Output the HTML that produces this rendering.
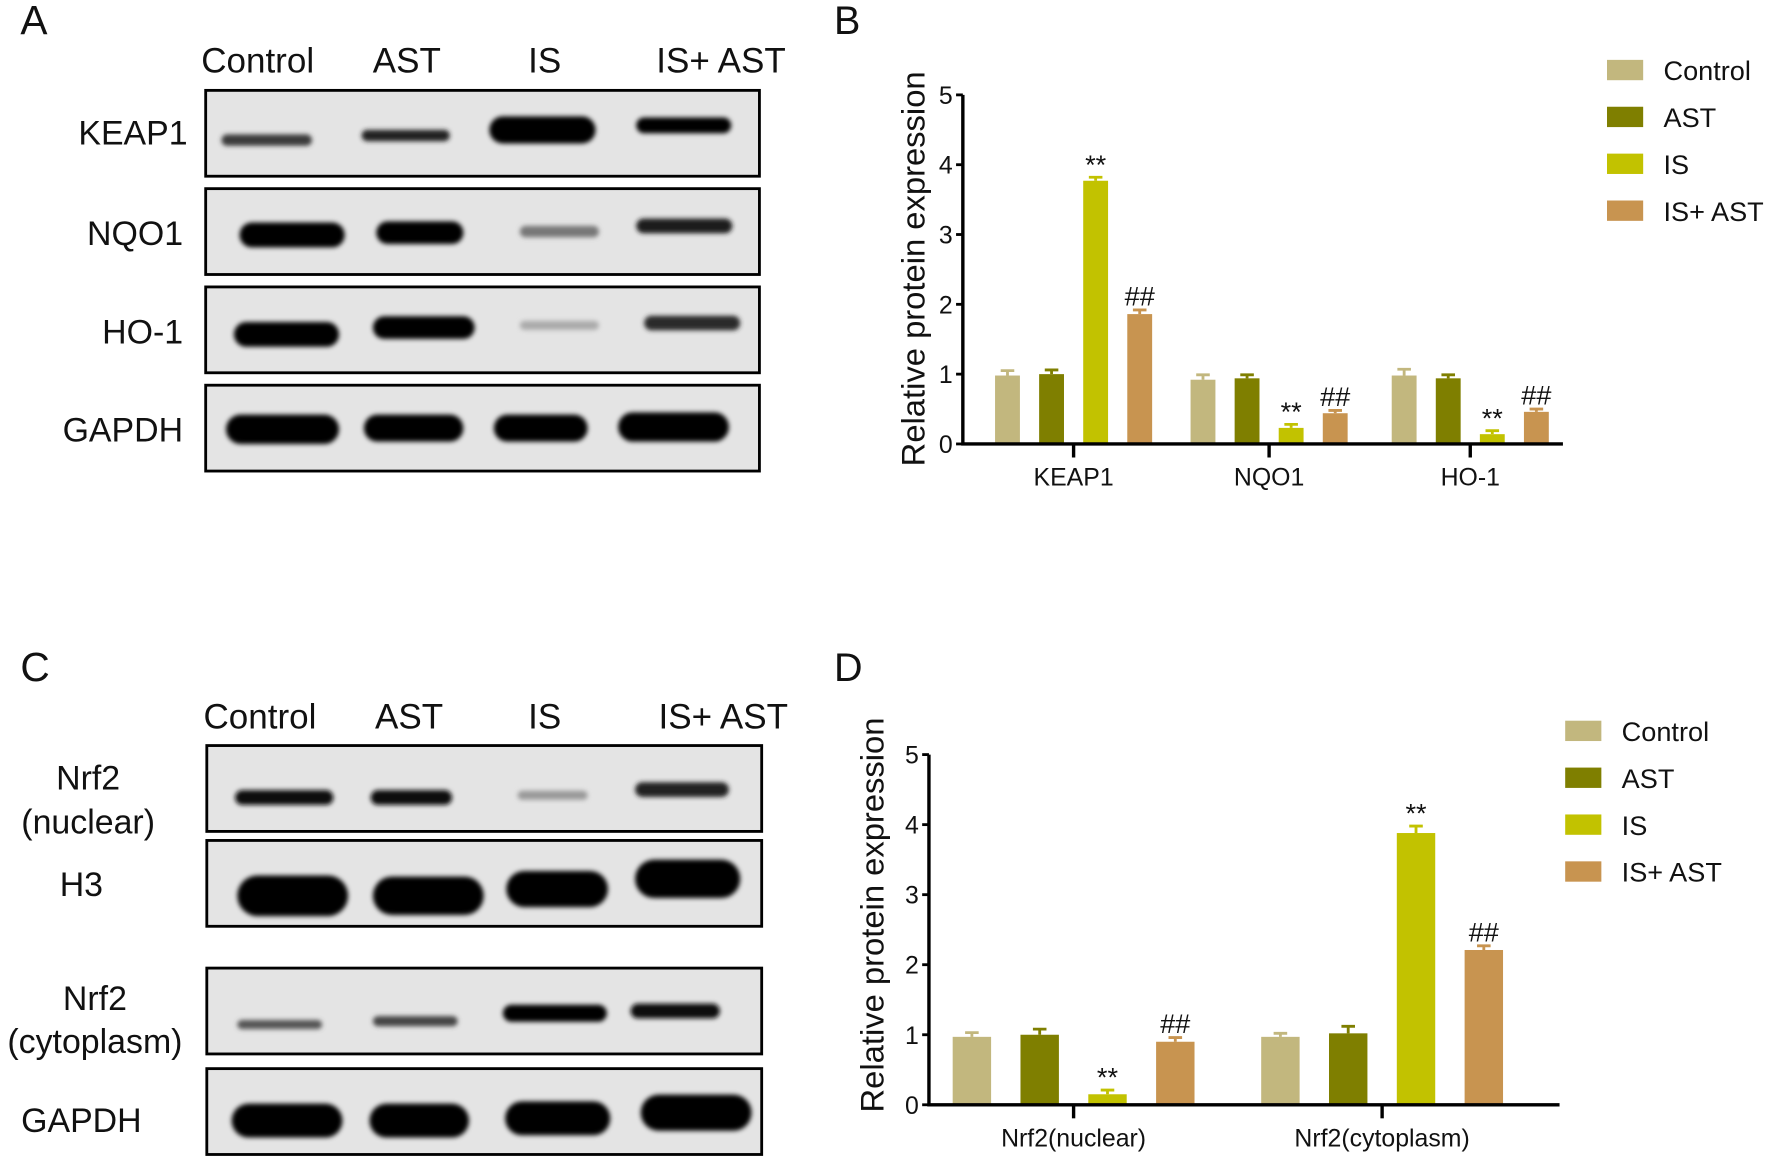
<!DOCTYPE html>
<html><head><meta charset="utf-8"><style>
html,body{margin:0;padding:0;background:#fff;}
svg{display:block;}
text{font-family:"Liberation Sans",Arial,sans-serif;fill:#111;}
</style></head><body>
<svg id="fig" width="1772" height="1159" viewBox="0 0 1568 1026" preserveAspectRatio="none" xmlns="http://www.w3.org/2000/svg">
<defs><filter id="blur" x="-20%" y="-100%" width="140%" height="300%"><feGaussianBlur stdDeviation="2.2"/></filter></defs>
<g id="panelA"></g>
<g id="panelC"></g>
<g id="chartB"></g>
<g id="chartD"></g>
</svg>
<script>
const groupNames = ["Control","AST","IS","IS+ AST"];
const seriesColors = ["#c2b77e","#7f7f00","#c2c200","#c89450"];
const yTicks = [0,1,2,3,4,5];
// Chart B data
const bCategories = ["KEAP1","NQO1","HO-1"];
const bControl = [0.98,0.92,0.98];
const bAST = [1.0,0.94,0.94];
const bIS = [3.77,0.23,0.14];
const bISAST = [1.86,0.44,0.46];
const bErr = [[0.07,0.07,0.09],[0.06,0.05,0.05],[0.05,0.05,0.05],[0.06,0.04,0.04]];
const bMarks = [["","",""],["","",""],["**","**","**"],["##","##","##"]];
// Chart D data
const dCategories = ["Nrf2(nuclear)","Nrf2(cytoplasm)"];
const dControl = [0.97,0.97];
const dAST = [1.0,1.02];
const dIS = [0.15,3.88];
const dISAST = [0.9,2.21];
const dErr = [[0.06,0.05],[0.08,0.1],[0.06,0.1],[0.06,0.06]];
const dMarks = [["",""],["",""],["**","**"],["##","##"]];

const NS="http://www.w3.org/2000/svg";
function mk(parent,tag,attrs,txt){const e=document.createElementNS(NS,tag);for(const k in attrs)e.setAttribute(k,attrs[k]);if(txt!==undefined)e.textContent=txt;parent.appendChild(e);return e;}

function drawChart(g,cfg){
  const {x0,x1,y0,y5,cats,series,errs,marks,centers,bw,sp,legX,legY,ylabX,ylabY,panel,panelY} = cfg;
  const y=v=>y0-(y0-y5)*v/5;
  let t=mk(g,'text',{x:738,y:panelY,'font-size':35});t.textContent=panel;
  
  
  series.forEach((vals,si)=>{
    vals.forEach((v,ci)=>{
      const cx=centers[ci]+(si-1.5)*sp;
      const r=mk(g,'rect',{x:cx-bw/2,y:y(v),width:bw,height:y0-y(v),fill:seriesColors[si]});
      
      
      const ey=y(v+errs[si][ci]);
      const eb=mk(g,'path',{d:`M${cx} ${y(v)}V${ey}M${cx-6} ${ey}H${cx+6}`,stroke:seriesColors[si],'stroke-width':2.5,fill:'none'});
      
      
      if(marks[si][ci]){
        const m=mk(g,'text',{x:cx,y:ey-(marks[si][ci]=='**'?3:4),'text-anchor':'middle','font-size':marks[si][ci]=='**'?24:24,fill:'#1d1d3a'},marks[si][ci]);
        
        
      }
    });
  });
  const ax=mk(g,'path',{d:`M${x0} ${y5}V${y0}H${x1}`,stroke:'#000','stroke-width':3,fill:'none'});
  
  
  yTicks.forEach(v=>{
    mk(g,'line',{x1:x0-6,x2:x0,y1:y(v),y2:y(v),stroke:'#000','stroke-width':2.5});
    const tl=mk(g,'text',{x:x0-9,y:y(v)+8,'text-anchor':'end','font-size':22},String(v));
    
    
  });
  cats.forEach((c,ci)=>{
    mk(g,'line',{x1:centers[ci],x2:centers[ci],y1:y0,y2:y0+12,stroke:'#000','stroke-width':3});
    const xl=mk(g,'text',{x:centers[ci],y:y0+37,'text-anchor':'middle','font-size':22},c);
    
    
  });
  const yl=mk(g,'text',{x:0,y:0,transform:`translate(${ylabX},${ylabY}) rotate(-90)`,'text-anchor':'middle','font-size':29},'Relative protein expression');
  
  
  groupNames.forEach((n,i)=>{
    const lg=mk(g,'g',{});
    
    
    mk(lg,'rect',{x:legX,y:legY+i*41.5-9,width:32,height:18,fill:seriesColors[i]});
    mk(lg,'text',{x:legX+50,y:legY+i*41.5+9,'font-size':24},n);
  });
}
drawChart(document.getElementById('chartB'),{x0:852,x1:1383,y0:393,y5:84,cats:bCategories,series:[bControl,bAST,bIS,bISAST],errs:bErr,marks:bMarks,centers:[950,1123,1301],bw:22,sp:39,legX:1422,legY:62,ylabX:818,ylabY:238,panel:'B',panelY:30});
drawChart(document.getElementById('chartD'),{x0:822,x1:1380,y0:978,y5:668,cats:dCategories,series:[dControl,dAST,dIS,dISAST],errs:dErr,marks:dMarks,centers:[950,1223],bw:34,sp:60,legX:1385,legY:647,ylabX:782,ylabY:810,panel:'D',panelY:603});

function drawBlot(g,cfg){
  const {letter,ly,headers,hy,hx,boxes} = cfg;
  const L=mk(g,'text',{x:18,y:ly,'font-size':36},letter);
  
  
  headers.forEach((h,i)=>{
    const t=mk(g,'text',{x:hx[i],y:hy,'text-anchor':'middle','font-size':31},h);
    
    
  });
  boxes.forEach(b=>{
    const bg=mk(g,'g',{});
    
    
    mk(bg,'rect',{x:b.x0,y:b.y,width:b.x1-b.x0,height:76,fill:'#e4e4e4',stroke:'#000','stroke-width':2.5});
    b.bands.forEach(bd=>{
      const [a,c,cy,h,col]=bd;
      mk(bg,'rect',{x:a,y:cy-h/2,width:c-a,height:h,rx:h/2,fill:col,filter:'url(#blur)'});
    });
    b.labels.forEach(l=>{
      const t=mk(g,'text',{x:l[0],y:l[1],'text-anchor':l[2]||'end','font-size':30},l[3]);
      
      
    });
  });
}
drawBlot(document.getElementById('panelA'),{letter:'A',ly:30,headers:groupNames,hy:64,hx:[228,360,482,638],boxes:[
 {name:'keap1',x0:182,x1:672,y:80,labels:[[166,128,'end','KEAP1']],bands:[[196,276,124,10,'#3a3a3a'],[320,398,120,10,'#222'],[433,527,115,24,'#000'],[563,647,111,14,'#050505']]},
 {name:'nqo1',x0:182,x1:672,y:167,labels:[[162,217,'end','NQO1']],bands:[[212,305,208,22,'#000'],[333,410,206,20,'#000'],[460,530,205,10,'#777'],[563,648,200,13,'#1a1a1a']]},
 {name:'ho-1',x0:182,x1:672,y:254,labels:[[162,304,'end','HO-1']],bands:[[207,300,296,22,'#000'],[330,420,290,20,'#000'],[460,530,288,8,'#aaa'],[570,655,286,13,'#2a2a2a']]},
 {name:'gapdh-a',x0:182,x1:672,y:341,labels:[[162,391,'end','GAPDH']],bands:[[200,300,380,26,'#000'],[322,410,379,24,'#000'],[437,520,379,24,'#000'],[547,645,378,26,'#000']]}
]});
drawBlot(document.getElementById('panelC'),{letter:'C',ly:603,headers:groupNames,hy:645,hx:[230,362,482,640],boxes:[
 {name:'nrf2-nuclear',x0:183,x1:674,y:660,labels:[[78,699,'middle','Nrf2'],[78,738,'middle','(nuclear)']],bands:[[208,295,706,13,'#111'],[328,400,706,13,'#111'],[458,520,704,8,'#999'],[562,645,699,13,'#222']]},
 {name:'h3',x0:183,x1:674,y:744,labels:[[72,793,'middle','H3']],bands:[[210,308,793,36,'#000'],[330,428,793,34,'#000'],[448,538,787,32,'#000'],[562,655,778,34,'#000']]},
 {name:'nrf2-cytoplasm',x0:183,x1:674,y:857,labels:[[84,894,'middle','Nrf2'],[84,932,'middle','(cytoplasm)']],bands:[[210,285,907,8,'#555'],[330,405,904,9,'#444'],[445,537,897,15,'#000'],[558,637,895,13,'#111']]},
 {name:'gapdh-c',x0:183,x1:674,y:946,labels:[[72,1002,'middle','GAPDH']],bands:[[205,303,992,30,'#000'],[327,415,992,30,'#000'],[447,540,990,30,'#000'],[567,665,985,32,'#000']]}
]});
</script>
</body></html>
